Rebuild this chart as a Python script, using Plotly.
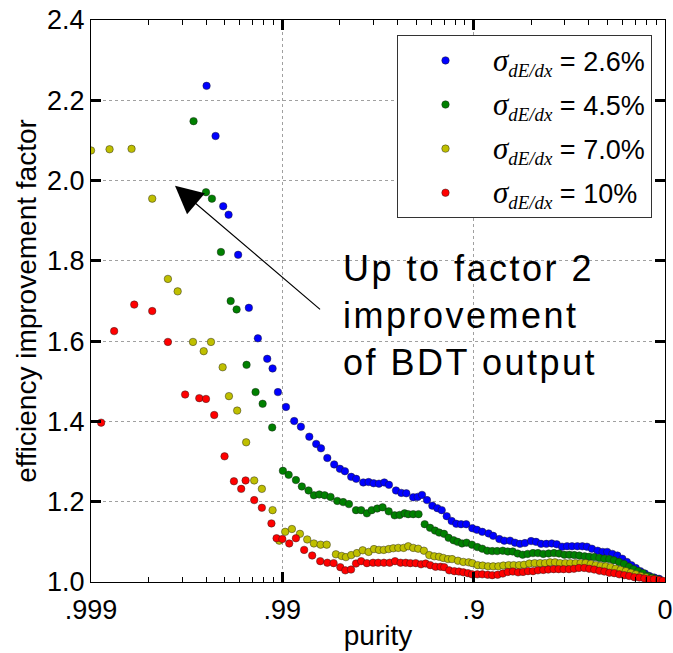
import numpy as np
import plotly.graph_objects as go

# x values are log10(1 - purity); y values are efficiency improvement factors
blue_logbkg = [-2.396, -2.349, -2.309, -2.281, -2.231, -2.175, -2.128, -2.079, -2.051, -2.023,
               -1.981, -1.938, -1.903, -1.859, -1.823, -1.798, -1.765, -1.729, -1.699, -1.673,
               -1.640, -1.614, -1.577, -1.549, -1.523, -1.495, -1.467, -1.443, -1.406, -1.378,
               -1.352, -1.316, -1.293, -1.270, -1.244, -1.216, -1.190, -1.167, -1.141, -1.115,
               -1.091, -1.066, -1.039, -1.007, -0.983, -0.955, -0.922, -0.898, -0.866, -0.840,
               -0.810, -0.784, -0.758, -0.732, -0.700, -0.674, -0.648, -0.620, -0.592, -0.566,
               -0.538, -0.512, -0.486, -0.458, -0.432, -0.408, -0.382, -0.352, -0.326, -0.302,
               -0.275, -0.249, -0.223, -0.199, -0.176, -0.153, -0.129, -0.105, -0.082, -0.056,
               -0.031]
blue_eff = [2.236, 2.111, 1.936, 1.915, 1.815, 1.683, 1.607, 1.556, 1.532, 1.473,
            1.436, 1.401, 1.387, 1.362, 1.344, 1.333, 1.309, 1.293, 1.282, 1.276,
            1.262, 1.257, 1.248, 1.249, 1.246, 1.245, 1.248, 1.242, 1.228, 1.222,
            1.221, 1.211, 1.212, 1.217, 1.204, 1.190, 1.184, 1.179, 1.164, 1.152,
            1.145, 1.144, 1.144, 1.134, 1.130, 1.125, 1.121, 1.115, 1.107, 1.103,
            1.103, 1.098, 1.095, 1.097, 1.102, 1.100, 1.095, 1.095, 1.096, 1.094,
            1.088, 1.089, 1.089, 1.089, 1.089, 1.088, 1.083, 1.078, 1.075, 1.075,
            1.070, 1.066, 1.058, 1.050, 1.042, 1.035, 1.027, 1.021, 1.015, 1.011,
            1.008]

green_logbkg = [-2.464, -2.399, -2.368, -2.321, -2.270, -2.239, -2.187, -2.140, -2.103, -2.053,
                -1.997, -1.967, -1.929, -1.898, -1.863, -1.835, -1.807, -1.779, -1.748, -1.713,
                -1.682, -1.652, -1.615, -1.588, -1.558, -1.533, -1.504, -1.476, -1.444, -1.413,
                -1.387, -1.361, -1.342, -1.316, -1.288, -1.256, -1.228, -1.202, -1.180, -1.155,
                -1.131, -1.105, -1.084, -1.061, -1.037, -1.009, -0.981, -0.955, -0.929, -0.903,
                -0.877, -0.848, -0.822, -0.796, -0.770, -0.744, -0.718, -0.690, -0.664, -0.636,
                -0.608, -0.580, -0.554, -0.526, -0.500, -0.474, -0.448, -0.420, -0.396, -0.370,
                -0.343, -0.317, -0.291, -0.267, -0.240, -0.214, -0.188, -0.164, -0.140, -0.115,
                -0.090, -0.066, -0.040]
green_eff = [2.148, 1.971, 1.955, 1.822, 1.700, 1.679, 1.541, 1.473, 1.444, 1.385,
             1.277, 1.267, 1.254, 1.238, 1.228, 1.216, 1.218, 1.216, 1.212, 1.202,
             1.199, 1.194, 1.179, 1.179, 1.171, 1.179, 1.183, 1.186, 1.176, 1.166,
             1.167, 1.171, 1.169, 1.169, 1.169, 1.144, 1.135, 1.128, 1.123, 1.120,
             1.110, 1.104, 1.100, 1.096, 1.098, 1.093, 1.087, 1.083, 1.078, 1.077,
             1.077, 1.078, 1.076, 1.076, 1.071, 1.068, 1.070, 1.072, 1.072, 1.070,
             1.071, 1.072, 1.071, 1.068, 1.068, 1.067, 1.066, 1.064, 1.063, 1.062,
             1.060, 1.058, 1.057, 1.054, 1.050, 1.045, 1.038, 1.032, 1.027, 1.022,
             1.015, 1.011, 1.007]

yellow_logbkg = [-3.000, -2.903, -2.788, -2.680, -2.598, -2.547, -2.467, -2.411, -2.373, -2.312,
                 -2.279, -2.236, -2.189, -2.147, -2.107, -2.051, -2.016, -1.985, -1.950, -1.908,
                 -1.870, -1.835, -1.800, -1.768, -1.720, -1.690, -1.668, -1.640, -1.610, -1.580,
                 -1.549, -1.521, -1.495, -1.470, -1.444, -1.420, -1.394, -1.366, -1.342, -1.316,
                 -1.290, -1.260, -1.232, -1.206, -1.181, -1.159, -1.134, -1.113, -1.082, -1.054,
                 -1.026, -1.007, -0.979, -0.953, -0.925, -0.898, -0.871, -0.845, -0.817, -0.791,
                 -0.763, -0.737, -0.709, -0.681, -0.653, -0.627, -0.601, -0.575, -0.549, -0.521,
                 -0.495, -0.467, -0.441, -0.415, -0.388, -0.362, -0.336, -0.310, -0.284, -0.258,
                 -0.232, -0.205, -0.179, -0.153, -0.127, -0.101, -0.075, -0.049, -0.025]
yellow_eff = [2.075, 2.078, 2.079, 1.955, 1.755, 1.724, 1.598, 1.575, 1.598, 1.535,
              1.463, 1.427, 1.348, 1.253, 1.232, 1.179, 1.103, 1.125, 1.132, 1.120,
              1.106, 1.096, 1.093, 1.093, 1.069, 1.065, 1.062, 1.067, 1.072, 1.079,
              1.075, 1.082, 1.080, 1.080, 1.082, 1.084, 1.085, 1.085, 1.089, 1.085,
              1.083, 1.078, 1.067, 1.064, 1.063, 1.060, 1.057, 1.057, 1.053, 1.050,
              1.049, 1.047, 1.042, 1.041, 1.039, 1.039, 1.039, 1.041, 1.042, 1.042,
              1.042, 1.043, 1.046, 1.047, 1.047, 1.047, 1.049, 1.049, 1.047, 1.047,
              1.047, 1.047, 1.047, 1.047, 1.045, 1.042, 1.040, 1.039, 1.037, 1.033,
              1.030, 1.027, 1.023, 1.019, 1.015, 1.012, 1.008, 1.006, 1.004]

red_logbkg = [-2.947, -2.879, -2.774, -2.680, -2.598, -2.508, -2.434, -2.399, -2.356, -2.302,
              -2.253, -2.215, -2.192, -2.147, -2.107, -2.057, -2.030, -2.000, -1.964, -1.929,
              -1.886, -1.844, -1.802, -1.765, -1.732, -1.697, -1.671, -1.641, -1.615, -1.588,
              -1.558, -1.526, -1.499, -1.469, -1.439, -1.411, -1.382, -1.355, -1.331, -1.303,
              -1.275, -1.251, -1.227, -1.199, -1.173, -1.154, -1.128, -1.101, -1.077, -1.054,
              -1.030, -1.009, -0.981, -0.955, -0.927, -0.903, -0.875, -0.848, -0.822, -0.795,
              -0.768, -0.742, -0.716, -0.690, -0.664, -0.636, -0.610, -0.582, -0.556, -0.530,
              -0.502, -0.476, -0.450, -0.422, -0.396, -0.370, -0.343, -0.317, -0.291, -0.265,
              -0.239, -0.213, -0.187, -0.160, -0.134, -0.108, -0.084, -0.058, -0.031, -0.012]
red_eff = [1.397, 1.625, 1.691, 1.675, 1.598, 1.467, 1.458, 1.456, 1.416, 1.313,
           1.251, 1.232, 1.253, 1.204, 1.185, 1.146, 1.109, 1.107, 1.096, 1.109,
           1.080, 1.066, 1.052, 1.048, 1.047, 1.037, 1.029, 1.031, 1.046, 1.052,
           1.047, 1.048, 1.048, 1.048, 1.048, 1.052, 1.048, 1.048, 1.047, 1.047,
           1.044, 1.046, 1.042, 1.038, 1.038, 1.037, 1.029, 1.027, 1.026, 1.024,
           1.022, 1.019, 1.019, 1.019, 1.018, 1.017, 1.018, 1.021, 1.025, 1.026,
           1.024, 1.025, 1.027, 1.027, 1.029, 1.030, 1.031, 1.032, 1.032, 1.032,
           1.032, 1.033, 1.035, 1.035, 1.033, 1.031, 1.028, 1.026, 1.023, 1.022,
           1.019, 1.017, 1.015, 1.012, 1.011, 1.009, 1.007, 1.007, 1.005, 1.003]

series_labels = ["2.6%", "4.5%", "7.0%", "10%"]
x_tick_vals = [0.001, 0.01, 0.1, 1.0]
x_tick_text = [".999", ".99", ".9", "0"]
x_minor_vals = [m * d for d in (0.001, 0.01, 0.1) for m in range(2, 10)]

series = [
    (blue_logbkg, blue_eff, "#0000ff", series_labels[0]),
    (green_logbkg, green_eff, "#008000", series_labels[1]),
    (yellow_logbkg, yellow_eff, "#bfbf00", series_labels[2]),
    (red_logbkg, red_eff, "#ff0000", series_labels[3]),
]

fig = go.Figure()
for i, (lx, ys, col, lab) in enumerate(series):
    name = ('<span style="font-family:Liberation Serif;font-size:31px"><i>σ</i></span>'
            '<span style="font-family:Liberation Serif"><sub><i>dE/dx</i></sub></span>'
            ' = ' + lab)
    fig.add_trace(go.Scatter(
        x=10 ** np.array(lx), y=ys, mode="markers", name=name,
        legendgroup=f"g{i}",
        marker=dict(color=col, size=7.5, line=dict(color="rgba(30,30,30,0.75)", width=0.6)),
    ))

fig.add_annotation(
    x=-2.561, y=1.987, ax=-1.795, ay=1.676, xref="x", yref="y", axref="x", ayref="y",
    text="", showarrow=True, arrowhead=2, arrowsize=4.6, arrowwidth=1.2, arrowcolor="black",
)
fig.add_annotation(
    x=0.4355, y=0.598, xref="paper", yref="paper", xanchor="left", yanchor="top",
    text=('<span style="letter-spacing:2.5px">Up to factor 2</span><br>'
          '<span style="letter-spacing:2.5px">improvement</span><br>'
          '<span style="letter-spacing:2.5px">of BDT output</span>'),
    align="left", showarrow=False,
    font=dict(family="Liberation Sans", size=36, color="black"),
)

axis_common = dict(
    showline=True, linecolor="black", linewidth=1.2, mirror="ticks",
    ticks="inside", ticklen=10, tickwidth=2.5, tickcolor="black",
    showgrid=True, gridcolor="#a0a0a0", griddash="dot", gridwidth=1,
    zeroline=False, automargin=False,
    tickfont=dict(family="Liberation Sans", size=27, color="black"),
    title_font=dict(family="Liberation Sans", size=28, color="black"),
)

fig.update_xaxes(
    type="log", range=[-3, 0], tickmode="array", tickvals=x_tick_vals, ticktext=x_tick_text,
    title_text="purity", title_standoff=1, ticklabelstandoff=3,
    minor=dict(tickmode="array", tickvals=x_minor_vals, ticks="inside", ticklen=5,
               tickwidth=1, tickcolor="black", showgrid=False),
    **axis_common,
)
fig.update_yaxes(
    range=[1.0, 2.4], dtick=0.2, tick0=1.0, tickformat=".1f",
    title_text="efficiency improvement factor", title_standoff=2,
    **axis_common,
)

fig.update_layout(
    width=673, height=653,
    margin=dict(l=91, r=8, t=20, b=71),
    paper_bgcolor="white", plot_bgcolor="white",
    showlegend=True,
    legend=dict(
        x=0.977, y=0.973, xanchor="right", yanchor="top",
        bgcolor="white", bordercolor="#333333", borderwidth=1.2,
        font=dict(family="Liberation Sans", size=27, color="black"),
        tracegroupgap=6, itemwidth=85, traceorder="grouped",
    ),
)

fig.write_html("out.html")
